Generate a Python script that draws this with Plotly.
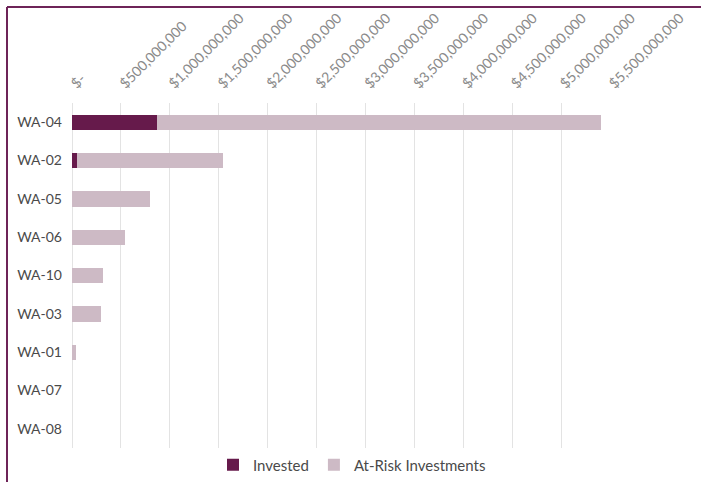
import plotly.graph_objects as go

districts = ["WA-04", "WA-02", "WA-05", "WA-06", "WA-10", "WA-03", "WA-01", "WA-07", "WA-08"]
invested = [867e6, 50e6, 0, 0, 0, 0, 0, 0, 0]
at_risk = [4540e6, 1490e6, 796e6, 541e6, 316e6, 296e6, 45e6, 0, 0]
tick_vals = [i * 5e8 for i in range(12)]
tick_text = ["$-", "$500,000,000", "$1,000,000,000", "$1,500,000,000", "$2,000,000,000",
             "$2,500,000,000", "$3,000,000,000", "$3,500,000,000", "$4,000,000,000",
             "$4,500,000,000", "$5,000,000,000", "$5,500,000,000"]

DARK = "#661A4B"
LIGHT = "#CDBAC5"
BORDER = "#6E2458"

fig = go.Figure()
fig.add_trace(go.Bar(y=districts, x=invested, orientation="h", name="Invested",
                     marker=dict(color=DARK, line=dict(width=0))))
fig.add_trace(go.Bar(y=districts, x=at_risk, orientation="h", name="At-Risk Investments",
                     marker=dict(color=LIGHT, line=dict(width=0))))

L, R, T, B = 72, 91, 103, 34
W, H = 701, 482
pw, ph = W - L - R, H - T - B

def px(xp):
    return (xp - L) / pw

def py(yp):
    return 1 - (yp - T) / ph

fig.update_layout(
    width=W, height=H, barmode="stack", bargap=0.6,
    margin=dict(l=L, r=R, t=T, b=B, autoexpand=False),
    paper_bgcolor="white", plot_bgcolor="white",
    font=dict(family="Lato, sans-serif", color="#404040"),
    xaxis=dict(side="top", range=[0, 5.5e9], tickvals=tick_vals, ticktext=tick_text,
               tickangle=-45, tickfont=dict(size=14, color="#8A8A8A"),
               showgrid=True, gridcolor="#E3E3E3", gridwidth=1,
               zeroline=True, zerolinecolor="#E3E3E3", zerolinewidth=1,
               showline=False, ticks="", automargin=False, ticklabelstandoff=8),
    yaxis=dict(categoryorder="array", categoryarray=districts, autorange="reversed",
               tickfont=dict(size=14, color="#4A4A4A"), showgrid=False,
               showline=False, ticks="", zeroline=False, automargin=False,
               ticklabelstandoff=9),
    showlegend=True,
    legend=dict(orientation="h", x=px(352), xanchor="center", y=py(465), yanchor="middle",
                font=dict(size=15, color="#4A4A4A"), traceorder="normal",
                itemwidth=30),
    shapes=[
        dict(type="line", xref="paper", yref="paper", x0=px(7), x1=px(7), y0=py(7), y1=py(482),
             line=dict(color=BORDER, width=2)),
        dict(type="line", xref="paper", yref="paper", x0=px(7), x1=px(701), y0=py(7), y1=py(7),
             line=dict(color=BORDER, width=2)),
    ],
)

fig.write_html("out.html", config={"displayModeBar": False},
               post_script="document.body.style.margin='0';document.body.style.overflow='hidden';")
